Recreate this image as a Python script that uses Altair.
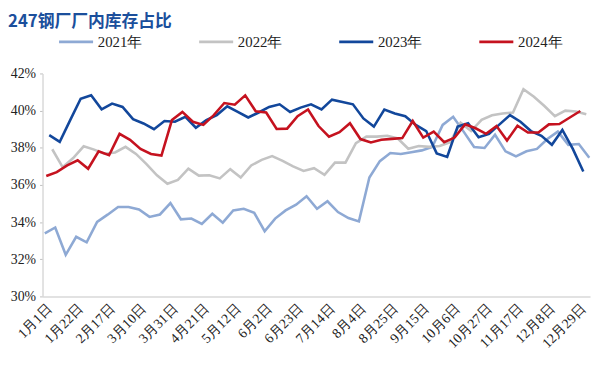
import altair as alt
import pandas as pd

title_text = "247钢厂厂内库存占比"
years = ["2021年", "2022年", "2023年", "2024年"]
colors = ["#8EA9D4", "#C3C3C3", "#12479B", "#C5121F"]
# day offset of each year's first weekly reading (weekly data, 7 days apart)
start_day = [0, 5, 3, 1]

v2021 = [33.39, 33.71, 32.24, 33.21, 32.91, 34.01, 34.40, 34.81, 34.81, 34.68,
         34.28, 34.41, 35.02, 34.15, 34.19, 33.90, 34.45, 33.97, 34.63, 34.72,
         34.50, 33.51, 34.19, 34.63, 34.94, 35.39, 34.72, 35.12, 34.54, 34.22,
         34.04, 36.40, 37.28, 37.72, 37.67, 37.76, 37.86, 38.04, 39.23, 39.67,
         38.87, 38.04, 37.99, 38.70, 37.81, 37.54, 37.81, 37.94, 38.47, 38.87,
         38.16, 38.20, 37.46]
v2022 = [37.92, 36.95, 37.45, 38.08, 37.90, 37.68, 37.75, 38.05, 37.67, 37.12,
         36.52, 36.06, 36.27, 36.88, 36.50, 36.52, 36.35, 36.85, 36.40, 37.05,
         37.35, 37.55, 37.30, 37.00, 36.75, 36.90, 36.55, 37.20, 37.20, 38.25,
         38.60, 38.60, 38.65, 38.50, 37.95, 38.10, 38.05, 38.10, 38.30, 39.35,
         38.90, 39.50, 39.75, 39.85, 39.90, 41.15, 40.75, 40.25, 39.70, 40.00,
         39.95, 39.80]
v2023 = [38.68, 38.32, 39.49, 40.64, 40.83, 40.07, 40.38, 40.20, 39.54, 39.31,
         39.00, 39.44, 39.40, 39.67, 39.08, 39.49, 39.76, 40.23, 39.93, 39.63,
         39.90, 40.20, 40.34, 39.93, 40.16, 40.34, 40.06, 40.59, 40.46, 40.34,
         39.58, 39.14, 40.06, 39.85, 39.70, 39.23, 38.90, 37.70, 37.51, 39.14,
         39.32, 38.57, 38.75, 39.26, 39.76, 39.40, 38.90, 38.64, 38.16, 38.96,
         37.94, 36.72]
v2024 = [36.48, 36.69, 37.05, 37.33, 36.87, 37.81, 37.60, 38.75, 38.43, 37.94,
         37.67, 37.58, 39.49, 39.93, 39.40, 39.23, 39.76, 40.41, 40.32, 40.82,
         39.97, 39.90, 39.01, 39.03, 39.70, 40.06, 39.17, 38.60, 38.84, 39.32,
         38.47, 38.29, 38.43, 38.48, 38.52, 39.44, 38.55, 38.87, 38.30, 38.55,
         39.26, 39.05, 38.75, 39.17, 38.39, 39.19, 38.82, 38.82, 39.26, 39.28,
         39.63, 39.98]

tick_labels = ["1月1日", "1月22日", "2月17日", "3月10日", "3月31日", "4月21日",
               "5月12日", "6月2日", "6月23日", "7月14日", "8月4日", "8月25日",
               "9月15日", "10月6日", "10月27日", "11月17日", "12月8日", "12月29日"]
tick_days = [0, 21, 42, 63, 84, 105, 126, 147, 168, 189, 210, 231, 252, 273,
             294, 315, 336, 357]
y_ticks = [30, 32, 34, 36, 38, 40, 42]

rows = []
for yr, s, vals in zip(years, start_day, [v2021, v2022, v2023, v2024]):
    for i, v in enumerate(vals):
        rows.append({"year": yr, "day": s + 7 * i, "value": v})
df = pd.DataFrame(rows)

label_arr = "[" + ",".join("'" + t + "'" for t in tick_labels) + "]"

serif = "Liberation Serif"

lines = alt.Chart(df).mark_line(strokeWidth=2.6, interpolate="linear").encode(
    x=alt.X("day:Q",
            scale=alt.Scale(domain=[-1.5, 364.5], nice=False, zero=False),
            axis=alt.Axis(values=tick_days, labelExpr=label_arr + "[round(datum.value/21)]",
                          labelAngle=-45, ticks=False, grid=False, domainColor="#D9D9D9",
                          domainWidth=1.5, labelFont=serif, labelFontSize=14,
                          labelColor="#222222", labelPadding=5, title=None,
                          labelOverlap=False, labelBound=False, labelFlush=False)),
    y=alt.Y("value:Q",
            scale=alt.Scale(domain=[30, 42], nice=False, zero=False),
            axis=alt.Axis(values=y_ticks, labelExpr="datum.value + '%'", grid=False,
                          domainColor="#D9D9D9", domainWidth=1.5, tickColor="#BFBFBF",
                          tickSize=3, labelFont=serif, labelFontSize=14,
                          labelColor="#222222", labelPadding=4, title=None)),
    color=alt.Color("year:N",
                    scale=alt.Scale(domain=years, range=colors),
                    legend=alt.Legend(title=None, orient="none", direction="horizontal",
                                      legendX=15, legendY=-51, symbolType="stroke",
                                      symbolSize=1190, symbolStrokeWidth=2.6,
                                      labelFont=serif, labelFontSize=15,
                                      labelColor="#222222", labelOffset=3,
                                      columnPadding=52)),
)

title_layer = alt.Chart(pd.DataFrame({"t": [title_text]})).mark_text(
    align="left", baseline="middle", font="Noto Sans CJK SC", fontSize=17,
    fontWeight="bold", color="#1B4F9C"
).encode(text="t:N", x=alt.value(-35), y=alt.value(-52))

chart = alt.layer(lines, title_layer).properties(
    width=555, height=226,
    autosize=alt.AutoSizeParams(type="none"),
    padding={"left": 35, "top": 64, "right": 2, "bottom": 55},
).configure_view(stroke=None)

chart.save("out.html", embed_options={"renderer": "svg", "actions": False})
